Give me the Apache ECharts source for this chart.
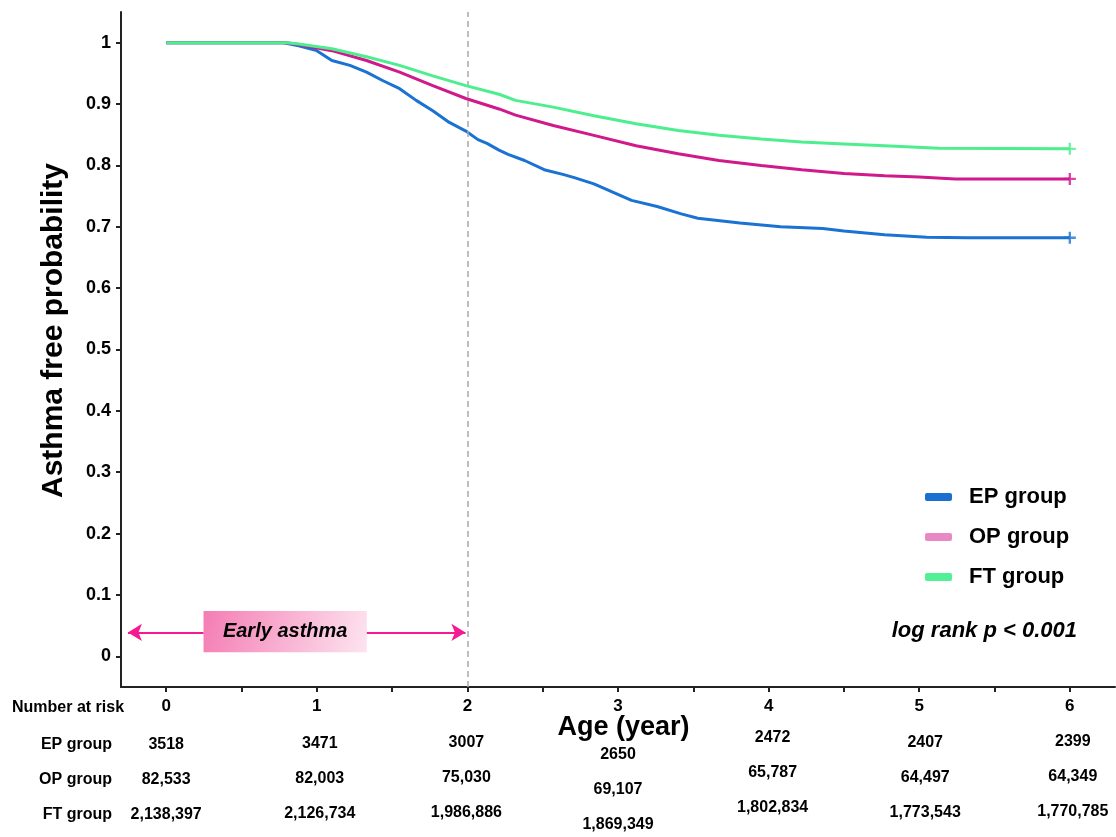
<!DOCTYPE html>
<html>
<head>
<meta charset="utf-8">
<script src="https://cdn.jsdelivr.net/npm/echarts@6/dist/echarts.min.js"></script>
<style>
html,body{margin:0;padding:0;background:#fff;}
#chart{width:1116px;height:837px;}
</style>
</head>
<body>
<div id="chart"></div>
<script>
// ---------- data ----------
const groupNames = ['EP group', 'OP group', 'FT group'];

const epTime = [0, 0.78, 0.88, 1.0, 1.1, 1.22, 1.33, 1.44, 1.55, 1.66, 1.77, 1.88, 1.99, 2.07, 2.13, 2.21, 2.27, 2.38, 2.51, 2.64, 2.71, 2.84, 2.98, 3.09, 3.26, 3.42, 3.53, 3.81, 4.08, 4.36, 4.50, 4.77, 5.05, 5.32, 6.0];
const epSurv = [1, 1, 0.995, 0.987, 0.971, 0.963, 0.952, 0.938, 0.925, 0.906, 0.889, 0.870, 0.856, 0.842, 0.836, 0.825, 0.818, 0.808, 0.793, 0.785, 0.780, 0.770, 0.755, 0.743, 0.733, 0.721, 0.714, 0.706, 0.700, 0.697, 0.693, 0.687, 0.683, 0.682, 0.682];

const opTime = [0, 0.8, 0.88, 1.1, 1.33, 1.55, 1.77, 1.99, 2.21, 2.32, 2.57, 2.84, 3.12, 3.40, 3.67, 3.95, 4.22, 4.50, 4.77, 5.0, 5.24, 6.0];
const opSurv = [1, 1, 0.997, 0.987, 0.971, 0.952, 0.930, 0.909, 0.892, 0.882, 0.865, 0.849, 0.832, 0.819, 0.808, 0.800, 0.793, 0.787, 0.783, 0.781, 0.778, 0.778];

const ftTime = [0, 0.8, 0.88, 1.1, 1.33, 1.55, 1.77, 1.99, 2.21, 2.32, 2.57, 2.84, 3.12, 3.40, 3.67, 3.95, 4.22, 4.50, 4.77, 5.13, 6.0];
const ftSurv = [1, 1, 0.998, 0.990, 0.977, 0.963, 0.946, 0.930, 0.916, 0.906, 0.895, 0.881, 0.868, 0.857, 0.849, 0.843, 0.838, 0.835, 0.832, 0.828, 0.827];

const riskTimes = [0, 1, 2, 3, 4, 5, 6];
const epRisk = [3518, 3471, 3007, 2650, 2472, 2407, 2399];
const opRisk = [82533, 82003, 75030, 69107, 65787, 64497, 64349];
const ftRisk = [2138397, 2126734, 1986886, 1869349, 1802834, 1773543, 1770785];

const xTickValues = [0, 0.5, 1, 1.5, 2, 2.5, 3, 3.5, 4, 4.5, 5, 5.5, 6];
const xLabelValues = [0, 1, 2, 3, 4, 5, 6];
const yTickValues = [0, 0.1, 0.2, 0.3, 0.4, 0.5, 0.6, 0.7, 0.8, 0.9, 1];

const earlyAsthmaEnd = 2;

// ---------- layout / style (not data) ----------
const lineColors = ['#1a72d2', '#d0198a', '#4cee8e'];
const legendColors = ['#1a6fd0', '#e889c6', '#50f097'];
const riskDx = [0, 3, -1, 0, 4, 6, 3];
const riskDy = [0, -1, -2, 10, -7, -2, -3];
const FONT = '"Liberation Sans", Arial, Helvetica, sans-serif';

function pairs(xs, ys) { return xs.map((x, i) => [x, ys[i]]); }
function fmt(n) { return n >= 10000 ? n.toLocaleString('en-US') : String(n); }

const curves = [pairs(epTime, epSurv), pairs(opTime, opSurv), pairs(ftTime, ftSurv)];
const riskRows = [epRisk, opRisk, ftRisk];

const plusPath = 'path://M4,0 H6 V4 H10 V6 H6 V10 H4 V6 H0 V4 H4 Z';

const riskData = [];
riskRows.forEach((row, r) => {
  row.forEach((n, c) => {
    riskData.push({
      value: [riskTimes[c], groupNames[r]],
      label: { formatter: fmt(n), offset: [riskDx[c], riskDy[c]] }
    });
  });
});

const series = curves.map((d, i) => ({
  name: groupNames[i],
  type: 'line',
  data: d,
  showSymbol: false,
  symbol: 'none',
  lineStyle: { color: lineColors[i], width: 3 },
  itemStyle: { color: lineColors[i] },
  z: 3 + i,
  silent: true
}));

// censor marks at the end of each curve
series.push({
  type: 'scatter',
  data: curves.map((d, i) => ({ value: d[d.length - 1], itemStyle: { color: lineColors[i] } })),
  symbol: plusPath,
  symbolSize: 12,
  z: 10,
  silent: true
});

// annotations: early asthma box + arrows, dashed line at 2 years
series.push({
  type: 'line',
  data: [],
  silent: true,
  z: 2,
  markArea: {
    silent: true,
    itemStyle: {
      color: {
        type: 'linear', x: 0, y: 0, x2: 1, y2: 1,
        colorStops: [{ offset: 0, color: '#f47db4' }, { offset: 1, color: '#fde4ef' }]
      }
    },
    label: {
      show: true, position: 'inside', color: '#000',
      fontFamily: FONT, fontWeight: 'bold', fontStyle: 'italic', fontSize: 20
    },
    data: [[{ name: 'Early asthma', coord: [0.248, 0.0738] }, { coord: [1.332, 0.0065] }]]
  },
  markLine: {
    silent: true,
    animation: false,
    label: { show: false },
    symbol: ['none', 'none'],
    data: [
      [{ coord: [-0.254, 0.039], symbol: 'arrow', symbolSize: [13, 14], lineStyle: { color: '#f7198f', width: 2, type: 'solid' } },
       { coord: [0.248, 0.039], symbol: 'none' }],
      [{ coord: [1.332, 0.039], symbol: 'none', lineStyle: { color: '#f7198f', width: 2, type: 'solid' } },
       { coord: [1.987, 0.039], symbol: 'arrow', symbolSize: [13, 14] }],
      { xAxis: earlyAsthmaEnd, lineStyle: { color: '#a8a8a8', width: 1.5, type: [6, 4] } }
    ]
  }
});

// risk table
series.push({
  type: 'scatter',
  xAxisIndex: 1,
  yAxisIndex: 1,
  data: riskData,
  symbolSize: 1,
  itemStyle: { color: 'rgba(0,0,0,0)' },
  silent: true,
  label: {
    show: true, position: 'inside', color: '#000', opacity: 1,
    textBorderWidth: 0,
    fontFamily: FONT, fontWeight: 'bold', fontSize: 16
  }
});

const axisLineStyle = { color: '#222', width: 2 };

const option = {
  animation: false,
  backgroundColor: '#fff',
  textStyle: { fontFamily: FONT },
  title: [
    {
      text: 'log rank p < 0.001', right: 39, top: 620, padding: 0,
      textStyle: { fontFamily: FONT, fontWeight: 'bold', fontStyle: 'italic', fontSize: 22, color: '#000' }
    },
    {
      text: 'Number at risk', left: 12, top: 700, padding: 0,
      textStyle: { fontFamily: FONT, fontWeight: 'bold', fontSize: 16, color: '#000' }
    }
  ],
  legend: {
    orient: 'vertical',
    left: 925,
    top: 486,
    padding: 0,
    icon: 'roundRect',
    itemWidth: 27,
    itemHeight: 8,
    itemGap: 18,
    selectedMode: false,
    textStyle: { fontFamily: FONT, fontWeight: 'bold', fontSize: 22, color: '#000', lineHeight: 22, padding: [0, 0, 0, 12] },
    data: groupNames.map((n, i) => ({ name: n, itemStyle: { color: legendColors[i] } }))
  },
  grid: [
    { left: 121, right: 1, top: 12, bottom: 150 },
    { left: 121, right: 1, top: 727, height: 105 }
  ],
  xAxis: [
    {
      type: 'value', gridIndex: 0, min: -0.3, max: 6.3,
      splitLine: { show: false },
      axisLine: { onZero: false, lineStyle: axisLineStyle },
      axisTick: { show: true, length: 5, lineStyle: axisLineStyle, customValues: xTickValues },
      axisLabel: {
        customValues: xLabelValues, margin: 11,
        fontFamily: FONT, fontWeight: 'bold', fontSize: 17, color: '#000',
        formatter: v => String(v)
      },
      name: 'Age (year)', nameLocation: 'middle', nameGap: 27, nameMoveOverlap: false,
      nameTextStyle: { fontFamily: FONT, fontWeight: 'bold', fontSize: 27, color: '#000', padding: [0, 0, 0, 11] }
    },
    { type: 'value', gridIndex: 1, min: -0.3, max: 6.3, show: false }
  ],
  yAxis: [
    {
      type: 'value', gridIndex: 0, min: -0.05, max: 1.05,
      splitLine: { show: false },
      axisLine: { show: true, onZero: false, lineStyle: axisLineStyle },
      axisTick: { show: true, length: 5, lineStyle: axisLineStyle, customValues: yTickValues },
      axisLabel: {
        customValues: yTickValues, margin: 10,
        fontFamily: FONT, fontWeight: 'bold', fontSize: 18, color: '#000',
        formatter: v => String(Math.round(v * 10) / 10)
      },
      name: 'Asthma free probability', nameLocation: 'middle', nameGap: 52, nameRotate: 90,
      nameTextStyle: { fontFamily: FONT, fontWeight: 'bold', fontSize: 30, color: '#000', padding: [0, 0, 0, 38] }
    },
    {
      type: 'category', gridIndex: 1, data: groupNames, inverse: true,
      axisLine: { show: false }, axisTick: { show: false }, splitLine: { show: false },
      axisLabel: { margin: 9, fontFamily: FONT, fontWeight: 'bold', fontSize: 16, color: '#000' }
    }
  ],
  series: series
};

const chart = echarts.init(document.getElementById('chart'), null, { renderer: 'canvas' });
chart.setOption(option);
</script>
</body>
</html>
